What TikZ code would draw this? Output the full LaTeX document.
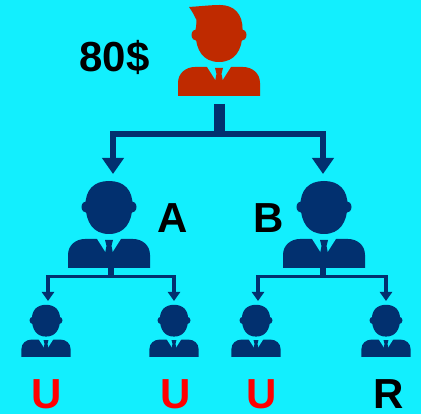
\documentclass[tikz,border=0pt]{standalone}
\usepackage{fontspec}
\setmainfont{Liberation Sans}
\usetikzlibrary{arrows.meta}
\definecolor{skycyan}{HTML}{12EFFE}
\definecolor{navyman}{HTML}{02306F}
\definecolor{redman}{HTML}{BF2A00}
\tikzset{
    person/.pic={
        \fill[pic actions] (-41,0) -- (-41,13) .. controls (-41,23) and (-33,29) .. (-24,29)
            -- (24,29) .. controls (33,29) and (41,23) .. (41,13) -- (41,0) -- cycle;
        \fill[skycyan] (-12.5,30) -- (12.5,30) -- (3,15) -- (-3,15) -- cycle;
        \fill[pic actions] (-4,28) -- (4,28) -- (2.5,22) -- (4.5,12) -- (-4.5,12) -- (-2.5,22) -- cycle;
        \fill[pic actions] (0,34) .. controls (-16,34) and (-23,46) .. (-23.5,62)
            .. controls (-24,78) and (-15,87) .. (0,87)
            .. controls (15,87) and (24,78) .. (23.5,62)
            .. controls (23,46) and (16,34) .. (0,34) -- cycle;
        \fill[pic actions] (-22,61) ellipse (5.5 and 6);
        \fill[pic actions] (22,61) ellipse (5.5 and 6);
    },
    hair/.pic={
        \fill[pic actions] (-30,89) .. controls (-15,90) and (-8,91) .. (1,91)
            .. controls (15,91) and (24,82) .. (23.5,66) -- (-23,66) -- (-22.5,76)
            .. controls (-25,81) and (-27,85) .. (-30,89) -- cycle;
    },
    bigflow/.style={navyman,line width=6.5pt,-{Triangle[width=21pt,length=16pt]}},
    smallflow/.style={navyman,line width=3.5pt,-{Triangle[width=12pt,length=9pt]}},
    tag/.style={font=\bfseries\fontsize{42}{42}\selectfont,anchor=base,inner sep=0pt}
}
\begin{document}
\begin{tikzpicture}[x=1pt,y=1pt]
    \useasboundingbox[fill=skycyan] (0,0) rectangle (421,414);
    % people
    \pic[fill=redman] at (219,318) {person};
    \pic[fill=redman] at (219,318) {hair};
    \pic[fill=navyman] at (109,146) {person};
    \pic[fill=navyman] at (324,146) {person};
    \pic[fill=navyman,scale=0.6] at (46,57) {person};
    \pic[fill=navyman,scale=0.6] at (174,57) {person};
    \pic[fill=navyman,scale=0.6] at (256,57) {person};
    \pic[fill=navyman,scale=0.6] at (386,57) {person};
    % connector ends
    \coordinate (root) at (219,310);
    \coordinate (rootj) at (219,280);
    \coordinate (tipA) at (113,240);
    \coordinate (tipB) at (323,240);
    \coordinate (A) at (111,156);
    \coordinate (Aj) at (111,137.5);
    \coordinate (B) at (323,156);
    \coordinate (Bj) at (323,137.5);
    \coordinate (tipa) at (48,113);
    \coordinate (tipb) at (174,113);
    \coordinate (tipc) at (258,113);
    \coordinate (tipd) at (386,113);
    \draw[navyman,line width=11pt] (root) -- (rootj);
    \draw[bigflow] (rootj) -| (tipA);
    \draw[bigflow] (rootj) -| (tipB);
    \draw[navyman,line width=6.5pt] (A) -- (Aj);
    \draw[smallflow] (Aj) -| (tipa);
    \draw[smallflow] (Aj) -| (tipb);
    \draw[navyman,line width=6.5pt] (B) -- (Bj);
    \draw[smallflow] (Bj) -| (tipc);
    \draw[smallflow] (Bj) -| (tipd);
    % labels
    \node (price) at (114.5,342) [tag] {80\$};
    \node (nameA) at (172.5,181) [tag] {A};
    \node (nameB) at (268.5,181) [tag] {B};
    \node (u1) at (46.5,5) [tag,red] {U};
    \node (u2) at (175.5,5) [tag,red] {U};
    \node (u3) at (261.5,5) [tag,red] {U};
    \node (r1) at (389,5) [tag] {R};
\end{tikzpicture}
\end{document}
